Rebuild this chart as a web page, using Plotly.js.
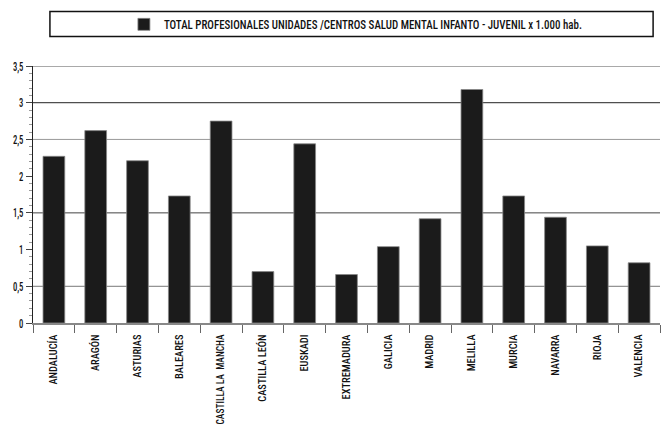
<!DOCTYPE html>
<html><head><meta charset="utf-8">
<script src="https://cdn.plot.ly/plotly-3.0.1.min.js"></script>
<style>html,body{margin:0;padding:0;background:#fff}#chart{width:662px;height:430px}</style>
</head><body><div id="chart"></div>
<script>
const categories = ["ANDALUCÍA","ARAGÓN","ASTURIAS","BALEARES","CASTILLA LA  MANCHA","CASTILLA LEÓN","EUSKADI","EXTREMADURA","GALICIA","MADRID","MELILLA","MURCIA","NAVARRA","RIOJA","VALENCIA"];
const values = [2.27,2.62,2.21,1.73,2.75,0.70,2.44,0.66,1.04,1.42,3.18,1.73,1.44,1.05,0.82];
const seriesName = "TOTAL PROFESIONALES UNIDADES /CENTROS SALUD MENTAL INFANTO - JUVENIL x 1.000 hab.";
const gridVals = [0.5,1.5,2.5,3,3.5];
const gridColors = ["#777","#444","#999","#222","#555"];
const yTicks = [0,0.5,1,1.5,2,2.5,3,3.5];

const FONT = "'Roboto Condensed', Roboto, sans-serif";

const shapes = gridVals.map((v,i)=>({type:'line',xref:'paper',yref:'y',x0:0,x1:1,y0:v,y1:v,line:{color:gridColors[i],width:1},layer:'below'}));
shapes.push({type:'rect',xref:'paper',yref:'paper',x0:0.027,x1:0.989,y0:1.115,y1:1.212,line:{color:'#111',width:1.5},fillcolor:'rgba(0,0,0,0)'});

const trace = {type:'bar',x:categories,y:values,name:seriesName,
  marker:{color:'#1b1b1b',line:{color:'#888',width:0.8}},showlegend:true};

const layout = {
  width:662,height:430,margin:{l:33,r:2,t:66,b:107},
  paper_bgcolor:'#fff',plot_bgcolor:'#fff',
  separators:', ',
  font:{family:FONT,color:'#111',size:11,weight:500},
  bargap:0.48,
  showlegend:true,
  legend:{x:0.145,y:1.162,xanchor:'left',yanchor:'middle',bgcolor:'rgba(0,0,0,0)',borderwidth:0,font:{family:FONT,size:12,color:'#111',weight:500},itemwidth:30},
  xaxis:{type:'category',tickangle:-90,ticks:'outside',tickson:'boundaries',ticklen:8,tickcolor:'#666',ticklabelstandoff:6,
    showline:true,linecolor:'#888',linewidth:1.5,showgrid:false,tickfont:{family:FONT,size:10,color:'#111',weight:500},automargin:false,fixedrange:true},
  yaxis:{range:[0,3.5],tickvals:yTicks,ticks:'outside',ticklen:6,tickcolor:'#444',showgrid:false,zeroline:false,
    showline:true,linecolor:'#222',linewidth:1,tickfont:{family:FONT,size:13,color:'#111',weight:500},automargin:false,
    minor:{dtick:0.1,ticks:'outside',ticklen:3,tickcolor:'#999',showgrid:false}},
  shapes:shapes
};
function squeeze(sel, factor, maxLen){
  document.querySelectorAll(sel).forEach(el=>{
    let w = el.getComputedTextLength()*factor;
    if (maxLen && w > maxLen) w = maxLen;
    el.setAttribute('textLength', w.toFixed(2));
    el.setAttribute('lengthAdjust','spacingAndGlyphs');
  });
}
function factorFor(sel, target){
  const el = document.querySelector(sel);
  return el ? target / el.getComputedTextLength() : 0.75;
}
Plotly.newPlot('chart',[trace],layout,{staticPlot:true,displayModeBar:false}).then(()=>{
  const fx = factorFor('.xtick text', 50);
  squeeze('.xtick text', fx, 90);
  squeeze('.ytick text', 0.66);
  squeeze('.legendtext', factorFor('.legendtext', 418));
});
</script></body></html>
